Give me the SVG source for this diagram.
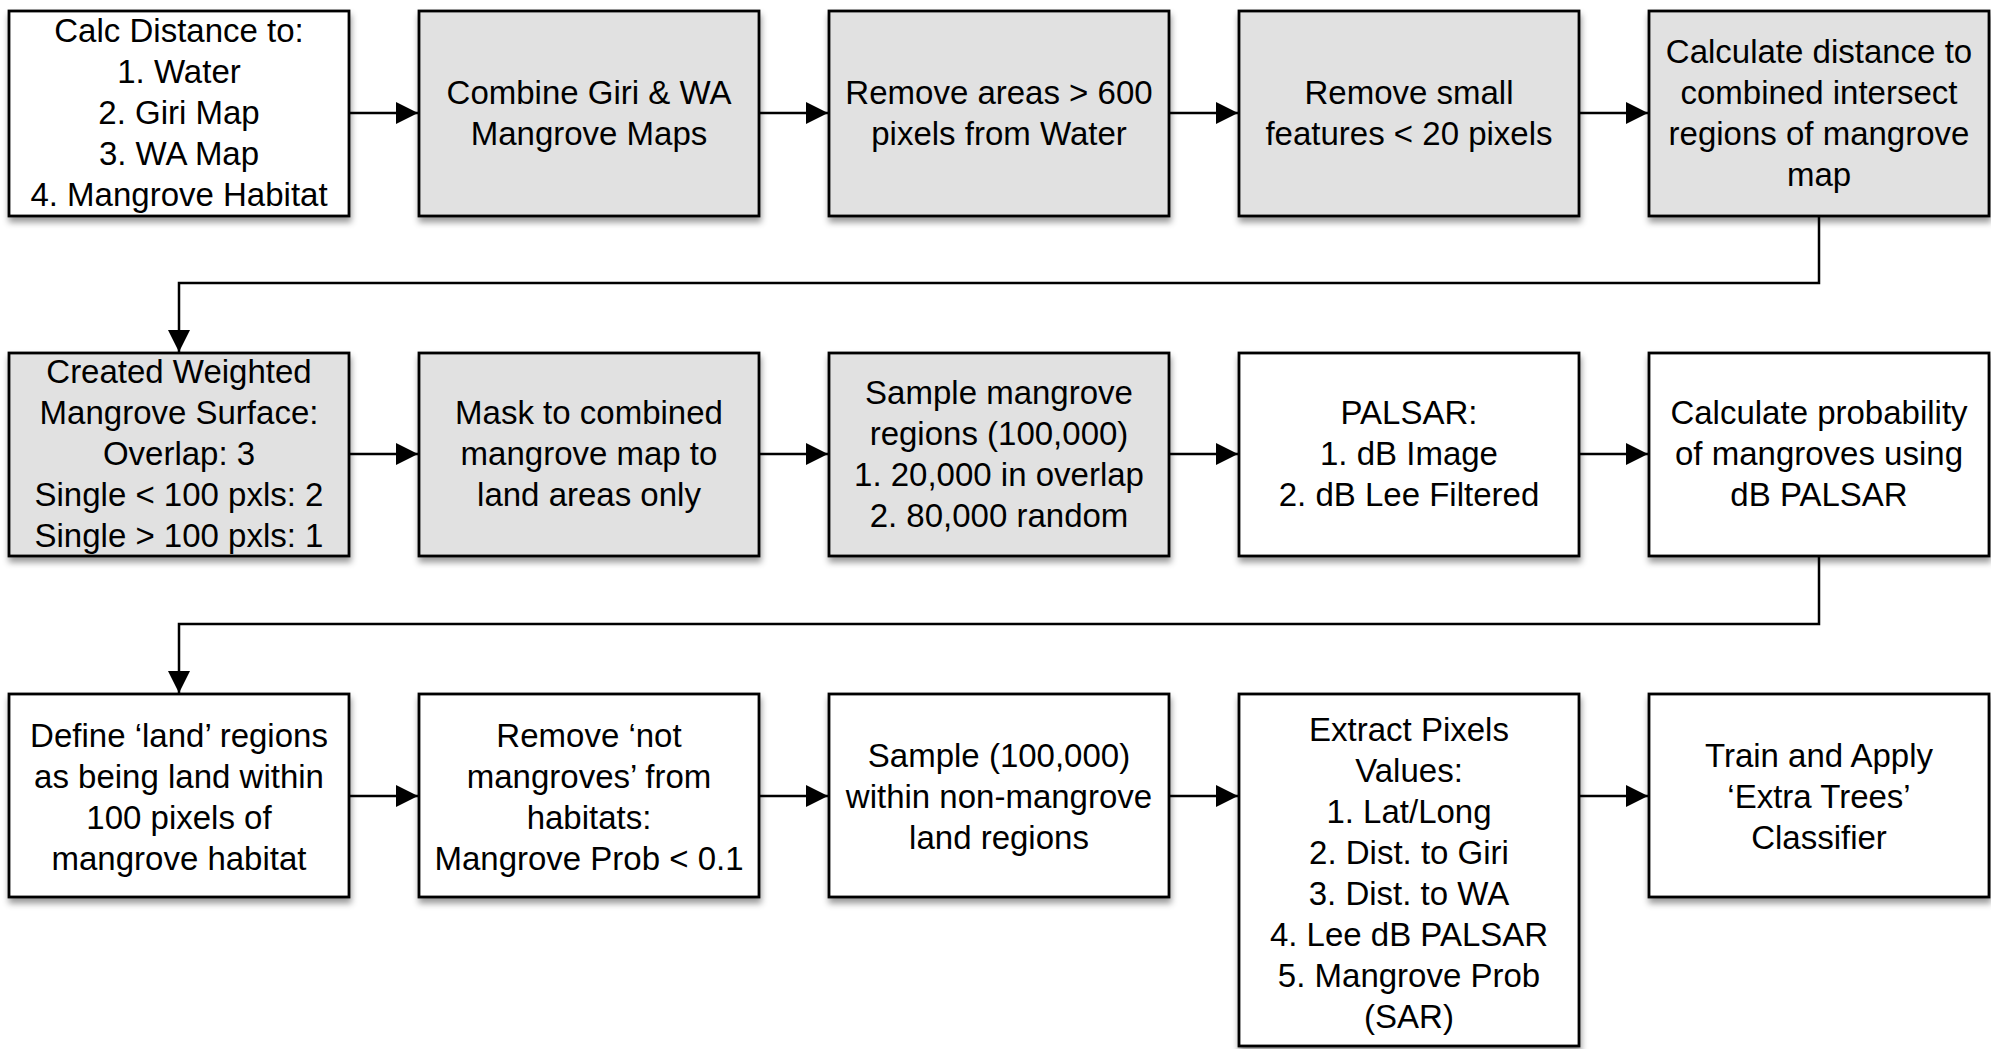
<svg xmlns="http://www.w3.org/2000/svg" width="1991" height="1049" viewBox="0 0 1991 1049">
<defs>
<filter id="sh" x="-10%" y="-10%" width="120%" height="125%">
<feDropShadow dx="1" dy="5" stdDeviation="3" flood-color="#000" flood-opacity="0.4"/>
</filter>
<marker id="ah" viewBox="0 0 22 22" refX="22" refY="11" markerWidth="22" markerHeight="22" markerUnits="userSpaceOnUse" orient="auto">
<path d="M0,0 L22,11 L0,22 z" fill="#000"/>
</marker>
</defs>
<style>
.b{stroke:#000;stroke-width:2.8;filter:url(#sh)}
.g{fill:#e1e1e1}
.w{fill:#fff}
text{font-family:"Liberation Sans",Arial,Helvetica,sans-serif;font-size:33px;fill:#000;text-anchor:middle}
.c{fill:none;stroke:#000;stroke-width:2.5;marker-end:url(#ah)}
</style>
<rect width="1991" height="1049" fill="#fff"/>

<g id="connectors">
<path class="c" d="M350,113 H418"/>
<path class="c" d="M760,113 H828"/>
<path class="c" d="M1170,113 H1238"/>
<path class="c" d="M1580,113 H1648"/>
<path class="c" d="M1819,217 V283 H179 V352"/>
<path class="c" d="M350,454 H418"/>
<path class="c" d="M760,454 H828"/>
<path class="c" d="M1170,454 H1238"/>
<path class="c" d="M1580,454 H1648"/>
<path class="c" d="M1819,557 V624 H179 V693"/>
<path class="c" d="M350,796 H418"/>
<path class="c" d="M760,796 H828"/>
<path class="c" d="M1170,796 H1238"/>
<path class="c" d="M1580,796 H1648"/>
</g>

<g id="n1"><rect class="b w" x="9" y="11" width="340" height="205"/>
<text><tspan x="179" y="42">Calc Distance to:</tspan><tspan x="179" y="83">1. Water</tspan><tspan x="179" y="124">2. Giri Map</tspan><tspan x="179" y="165">3. WA Map</tspan><tspan x="179" y="206">4. Mangrove Habitat</tspan></text></g>

<g id="n2"><rect class="b g" x="419" y="11" width="340" height="205"/>
<text><tspan x="589" y="104">Combine Giri &amp; WA</tspan><tspan x="589" y="145">Mangrove Maps</tspan></text></g>

<g id="n3"><rect class="b g" x="829" y="11" width="340" height="205"/>
<text><tspan x="999" y="104">Remove areas &gt; 600</tspan><tspan x="999" y="145">pixels from Water</tspan></text></g>

<g id="n4"><rect class="b g" x="1239" y="11" width="340" height="205"/>
<text><tspan x="1409" y="104">Remove small</tspan><tspan x="1409" y="145">features &lt; 20 pixels</tspan></text></g>

<g id="n5"><rect class="b g" x="1649" y="11" width="340" height="205"/>
<text><tspan x="1819" y="63">Calculate distance to</tspan><tspan x="1819" y="104">combined intersect</tspan><tspan x="1819" y="145">regions of mangrove</tspan><tspan x="1819" y="186">map</tspan></text></g>

<g id="n6"><rect class="b g" x="9" y="353" width="340" height="203"/>
<text><tspan x="179" y="383">Created Weighted</tspan><tspan x="179" y="424">Mangrove Surface:</tspan><tspan x="179" y="465">Overlap: 3</tspan><tspan x="179" y="506">Single &lt; 100 pxls: 2</tspan><tspan x="179" y="547">Single &gt; 100 pxls: 1</tspan></text></g>

<g id="n7"><rect class="b g" x="419" y="353" width="340" height="203"/>
<text><tspan x="589" y="424">Mask to combined</tspan><tspan x="589" y="465">mangrove map to</tspan><tspan x="589" y="506">land areas only</tspan></text></g>

<g id="n8"><rect class="b g" x="829" y="353" width="340" height="203"/>
<text><tspan x="999" y="404">Sample mangrove</tspan><tspan x="999" y="445">regions (100,000)</tspan><tspan x="999" y="486">1. 20,000 in overlap</tspan><tspan x="999" y="527">2. 80,000 random</tspan></text></g>

<g id="n9"><rect class="b w" x="1239" y="353" width="340" height="203"/>
<text><tspan x="1409" y="424">PALSAR:</tspan><tspan x="1409" y="465">1. dB Image</tspan><tspan x="1409" y="506">2. dB Lee Filtered</tspan></text></g>

<g id="n10"><rect class="b w" x="1649" y="353" width="340" height="203"/>
<text><tspan x="1819" y="424">Calculate probability</tspan><tspan x="1819" y="465">of mangroves using</tspan><tspan x="1819" y="506">dB PALSAR</tspan></text></g>

<g id="n11"><rect class="b w" x="9" y="694" width="340" height="203"/>
<text><tspan x="179" y="747">Define ‘land’ regions</tspan><tspan x="179" y="788">as being land within</tspan><tspan x="179" y="829">100 pixels of</tspan><tspan x="179" y="870">mangrove habitat</tspan></text></g>

<g id="n12"><rect class="b w" x="419" y="694" width="340" height="203"/>
<text><tspan x="589" y="747">Remove ‘not</tspan><tspan x="589" y="788">mangroves’ from</tspan><tspan x="589" y="829">habitats:</tspan><tspan x="589" y="870">Mangrove Prob &lt; 0.1</tspan></text></g>

<g id="n13"><rect class="b w" x="829" y="694" width="340" height="203"/>
<text><tspan x="999" y="767">Sample (100,000)</tspan><tspan x="999" y="808">within non-mangrove</tspan><tspan x="999" y="849">land regions</tspan></text></g>

<g id="n14"><rect class="b w" x="1239" y="694" width="340" height="352"/>
<text><tspan x="1409" y="741">Extract Pixels</tspan><tspan x="1409" y="782">Values:</tspan><tspan x="1409" y="823">1. Lat/Long</tspan><tspan x="1409" y="864">2. Dist. to Giri</tspan><tspan x="1409" y="905">3. Dist. to WA</tspan><tspan x="1409" y="946">4. Lee dB PALSAR</tspan><tspan x="1409" y="987">5. Mangrove Prob</tspan><tspan x="1409" y="1028">(SAR)</tspan></text></g>

<g id="n15"><rect class="b w" x="1649" y="694" width="340" height="203"/>
<text><tspan x="1819" y="767">Train and Apply</tspan><tspan x="1819" y="808">‘Extra Trees’</tspan><tspan x="1819" y="849">Classifier</tspan></text></g>
</svg>
